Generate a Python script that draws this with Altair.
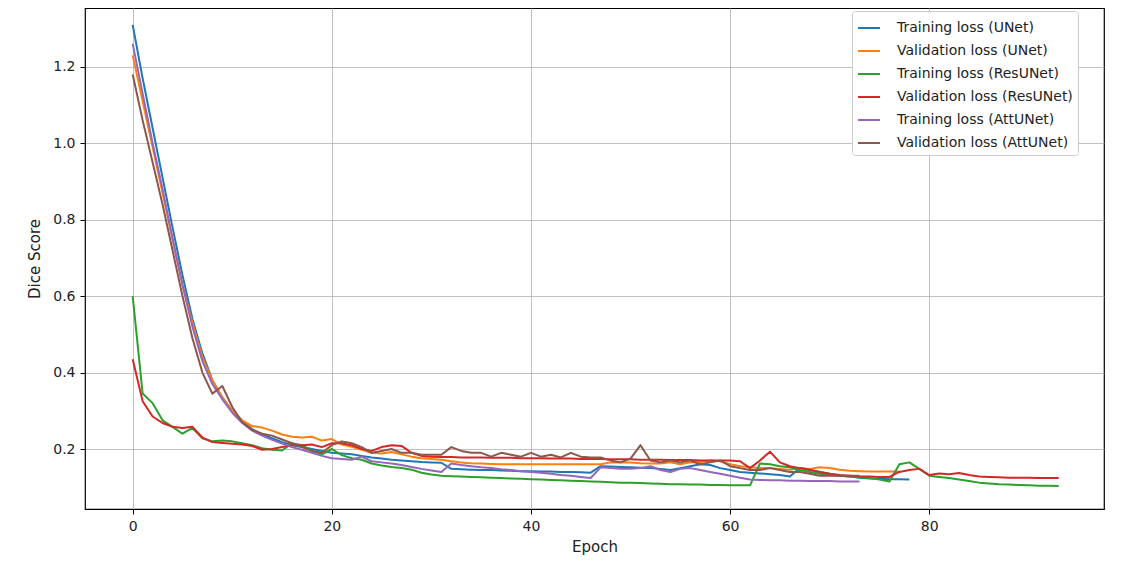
import altair as alt
import pandas as pd

series_names = [
    "Training loss (UNet)",
    "Validation loss (UNet)",
    "Training loss (ResUNet)",
    "Validation loss (ResUNet)",
    "Training loss (AttUNet)",
    "Validation loss (AttUNet)",
]
colors = ["#1f77b4", "#ff7f0e", "#2ca02c", "#d62728", "#9467bd", "#8c564b"]

unet_train = [
    1.31, 1.17, 1.04, 0.91, 0.78, 0.655, 0.54, 0.45, 0.38, 0.335,
    0.30, 0.272, 0.252, 0.238, 0.228, 0.218, 0.21, 0.205, 0.20, 0.195,
    0.19, 0.188, 0.186, 0.182, 0.178, 0.175, 0.172, 0.17, 0.168, 0.166,
    0.165, 0.164, 0.148, 0.147, 0.146, 0.145, 0.145, 0.144, 0.143, 0.142,
    0.142, 0.141, 0.141, 0.140, 0.140, 0.139, 0.138, 0.155, 0.154, 0.153,
    0.152, 0.151, 0.150, 0.148, 0.145, 0.150, 0.155, 0.160, 0.158, 0.150,
    0.145, 0.140, 0.138, 0.136, 0.134, 0.132, 0.128, 0.150, 0.145, 0.140,
    0.135, 0.130, 0.128, 0.125, 0.123, 0.122, 0.121, 0.121, 0.120,
]
unet_val = [
    1.23, 1.11, 0.99, 0.87, 0.75, 0.63, 0.53, 0.44, 0.38, 0.335,
    0.30, 0.275, 0.26, 0.256, 0.248, 0.238, 0.232, 0.23, 0.232, 0.222,
    0.226, 0.212, 0.206, 0.198, 0.19, 0.188, 0.192, 0.186, 0.18, 0.176,
    0.174, 0.172, 0.168, 0.165, 0.163, 0.162, 0.161, 0.16, 0.16, 0.16,
    0.16, 0.16, 0.16, 0.16, 0.16, 0.16, 0.16, 0.16, 0.165, 0.165,
    0.165, 0.163, 0.162, 0.162, 0.165, 0.16, 0.165, 0.166, 0.17, 0.168,
    0.16, 0.155, 0.152, 0.15, 0.15, 0.148, 0.146, 0.15, 0.148, 0.152,
    0.15, 0.146, 0.143, 0.142, 0.141, 0.141, 0.141, 0.141,
]
resunet_train = [
    0.60, 0.345, 0.32, 0.275, 0.258, 0.24, 0.255, 0.228, 0.22, 0.222,
    0.22, 0.215, 0.21, 0.202, 0.198, 0.196, 0.215, 0.21, 0.196, 0.186,
    0.20, 0.184, 0.176, 0.172, 0.162, 0.157, 0.153, 0.15, 0.146, 0.138,
    0.133, 0.13, 0.129, 0.128, 0.127, 0.126, 0.125, 0.124, 0.123, 0.122,
    0.121, 0.12, 0.119, 0.118, 0.117, 0.116, 0.115, 0.114, 0.113, 0.112,
    0.112, 0.111, 0.11, 0.109, 0.108, 0.108, 0.107, 0.107, 0.106, 0.106,
    0.105, 0.105, 0.105, 0.162, 0.16, 0.155, 0.152, 0.145, 0.14, 0.135,
    0.132, 0.13, 0.128, 0.126, 0.124, 0.12, 0.115, 0.16, 0.165, 0.148,
    0.13, 0.127, 0.124, 0.12, 0.116, 0.112, 0.11, 0.108, 0.107, 0.106,
    0.105, 0.104, 0.104, 0.103,
]
resunet_val = [
    0.435, 0.325, 0.285, 0.268, 0.258, 0.255, 0.258, 0.23, 0.218, 0.216,
    0.214, 0.212, 0.208, 0.198, 0.20, 0.205, 0.21, 0.21, 0.212, 0.205,
    0.215, 0.215, 0.21, 0.20, 0.195, 0.205, 0.21, 0.208, 0.19, 0.182,
    0.18, 0.179, 0.179, 0.178, 0.178, 0.178, 0.177, 0.177, 0.177, 0.176,
    0.176, 0.176, 0.175, 0.175, 0.175, 0.174, 0.174, 0.174, 0.173, 0.173,
    0.173, 0.172, 0.172, 0.172, 0.171, 0.171, 0.171, 0.170, 0.170, 0.170,
    0.170, 0.168, 0.15, 0.17, 0.193, 0.165, 0.155, 0.15, 0.146, 0.14,
    0.135, 0.132, 0.13, 0.128, 0.128, 0.127, 0.127, 0.14, 0.145, 0.148,
    0.132, 0.136, 0.134, 0.137, 0.132, 0.128, 0.127, 0.126, 0.125, 0.125,
    0.125, 0.124, 0.124, 0.124,
]
attunet_train = [
    1.26, 1.13, 1.0, 0.88, 0.75, 0.63, 0.52, 0.43, 0.37, 0.33,
    0.295, 0.268, 0.248, 0.235, 0.224, 0.214, 0.205, 0.198, 0.19, 0.182,
    0.176, 0.174, 0.172, 0.18, 0.168, 0.165, 0.162, 0.158, 0.153, 0.148,
    0.144, 0.14, 0.162, 0.158, 0.155, 0.152, 0.15, 0.147, 0.145, 0.142,
    0.14, 0.138, 0.135, 0.132, 0.13, 0.127, 0.124, 0.152, 0.15, 0.148,
    0.148, 0.15, 0.155, 0.145, 0.14, 0.148, 0.15, 0.145, 0.14, 0.135,
    0.13, 0.125, 0.12, 0.119, 0.118, 0.118, 0.117, 0.117, 0.116, 0.116,
    0.116, 0.115, 0.115, 0.115,
]
attunet_val = [
    1.18, 1.06, 0.95, 0.84, 0.72, 0.60, 0.49, 0.40, 0.345, 0.365,
    0.31, 0.27, 0.25, 0.24, 0.235, 0.225, 0.215, 0.205, 0.195, 0.19,
    0.21, 0.22, 0.215, 0.205, 0.19, 0.195, 0.20, 0.19, 0.19, 0.185,
    0.185, 0.185, 0.205, 0.195, 0.19, 0.19, 0.18, 0.19, 0.185, 0.18,
    0.19, 0.18, 0.185, 0.178, 0.19, 0.18, 0.178, 0.178, 0.17, 0.165,
    0.175, 0.21, 0.17, 0.165, 0.17, 0.165, 0.17, 0.16, 0.165, 0.17,
    0.155, 0.15, 0.145, 0.145, 0.15, 0.145, 0.14, 0.14, 0.135, 0.13,
    0.13, 0.13, 0.13, 0.13,
]

all_series = [unet_train, unet_val, resunet_train, resunet_val, attunet_train, attunet_val]

rows = []
for name, vals in zip(series_names, all_series):
    for i, v in enumerate(vals):
        rows.append({"series": name, "epoch": i, "value": v})
df = pd.DataFrame(rows)

FONT = "DejaVu Sans"

x_enc = alt.X(
    "epoch:Q",
    title="Epoch",
    scale=alt.Scale(domain=[-4.79, 97.55], nice=False, zero=False),
    axis=alt.Axis(values=[0, 20, 40, 60, 80], format="d"),
)
y_enc = alt.Y(
    "value:Q",
    title="Dice Score",
    scale=alt.Scale(domain=[0.043, 1.354], nice=False, zero=False),
    axis=alt.Axis(values=[0.2, 0.4, 0.6, 0.8, 1.0, 1.2], format=".1f"),
)
color_enc = alt.Color(
    "series:N",
    title=None,
    scale=alt.Scale(domain=series_names, range=colors),
    legend=alt.Legend(
        orient="none",
        legendX=767,
        legendY=3,
        symbolType="stroke",
        symbolSize=484,
        symbolStrokeWidth=2,
        labelFontSize=14,
        labelFont=FONT,
        labelColor="#222222",
        labelLimit=400,
        rowPadding=4,
        padding=5,
        strokeColor="#cccccc",
        fillColor="white",
        cornerRadius=3,
        labelOffset=16,
    ),
)

layers = []
for name in series_names:
    layers.append(
        alt.Chart(df)
        .transform_filter(alt.datum.series == name)
        .mark_line(strokeWidth=2, strokeJoin="round")
        .encode(x=x_enc, y=y_enc, color=color_enc)
    )

chart = (
    alt.layer(*layers)
    .properties(
        width=1019,
        height=501,
        autosize=alt.AutoSizeParams(type="none"),
        padding={"left": 77, "top": 0, "right": 10, "bottom": 50},
    )
    .configure_view(stroke="black", strokeWidth=1.2)
    .configure_axis(
        grid=True,
        gridColor="#b0b0b0",
        gridWidth=0.8,
        domain=False,
        tickColor="black",
        tickSize=5,
        labelFont=FONT,
        titleFont=FONT,
        labelFontSize=14,
        titleFontSize=15,
        labelColor="#222222",
        titleColor="#222222",
        titleFontWeight="normal",
        labelPadding=5,
    )
    .configure_axisX(titlePadding=6)
    .configure_axisY(titlePadding=10)
)

chart.save("out.html", embed_options={"renderer": "svg", "actions": False})
